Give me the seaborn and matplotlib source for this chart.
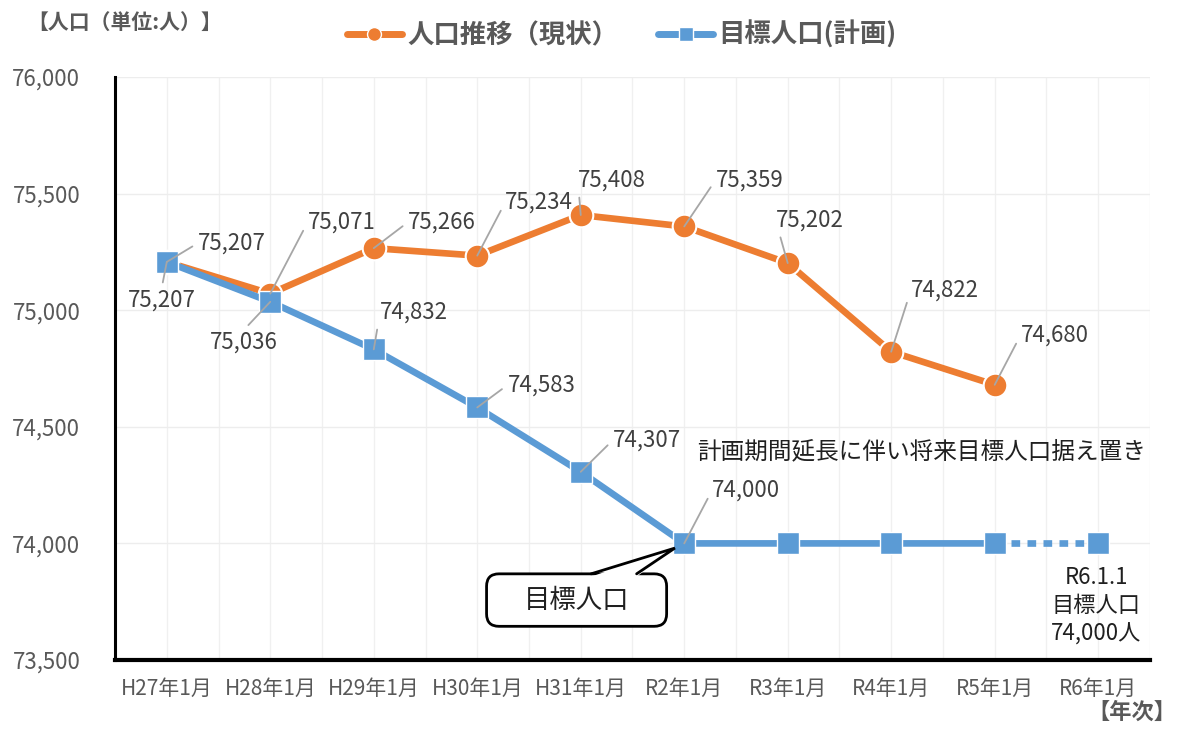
import numpy as np
import pandas as pd
import matplotlib.pyplot as plt
import seaborn as sns
from matplotlib.lines import Line2D
from matplotlib.patches import FancyBboxPatch, Polygon

# データ
years = ['H27年1月', 'H28年1月', 'H29年1月', 'H30年1月', 'H31年1月',
         'R2年1月', 'R3年1月', 'R4年1月', 'R5年1月', 'R6年1月']
actual = [75207, 75071, 75266, 75234, 75408, 75359, 75202, 74822, 74680]
target = [75207, 75036, 74832, 74583, 74307, 74000, 74000, 74000, 74000, 74000]

# ラベル位置 (x: カテゴリ単位, y: 人口)
actual_lbl_x = [0.63, 1.69, 2.66, 3.60, 4.30, 5.63, 6.21, 7.52, 8.58]
actual_lbl_y = [75288, 75378, 75378, 75464, 75558, 75558, 75387, 75087, 74894]
target_lbl_x = [-0.05, 0.74, 2.39, 3.62, 4.64, 5.60]
target_lbl_y = [75044, 74864, 74992, 74679, 74443, 74229]

ORANGE = '#ED7D31'
BLUE = '#5B9BD5'

sns.set_theme(style='white')
plt.rcParams['font.family'] = ['Noto Sans CJK JP', 'DejaVu Sans']

df_a = pd.DataFrame({'x': np.arange(len(actual)), 'pop': actual})
df_t = pd.DataFrame({'x': np.arange(len(target)), 'pop': target})

fig = plt.figure(figsize=(11.8, 7.31), dpi=100)
ax = fig.add_axes([0.0975, 0.0971, 0.877, 0.7976])

# 人口推移（現状）
sns.lineplot(data=df_a, x='x', y='pop', ax=ax, color=ORANGE, lw=4.8,
             marker='o', markersize=17, markeredgecolor='white',
             markeredgewidth=1.5, zorder=3)

# 目標人口（計画）: R5→R6 は点線
sns.lineplot(data=df_t.iloc[8:], x='x', y='pop', ax=ax, color=BLUE, lw=4.8,
             linestyle=(0, (1.3, 1.1)), dash_capstyle='butt',
             marker='s', markersize=16, markeredgecolor='white',
             markeredgewidth=1.0, zorder=3.5)
sns.lineplot(data=df_t.iloc[:9], x='x', y='pop', ax=ax, color=BLUE, lw=4.8,
             marker='s', markersize=16, markeredgecolor='white',
             markeredgewidth=1.0, zorder=4)

# 軸
ax.set_xlim(-0.5, len(years) - 0.5)
ax.set_ylim(73500, 76000)
ax.set_xticks(np.arange(len(years)))
ax.set_xticklabels(years)
ax.set_xticks(np.arange(-0.5, len(years), 1.0), minor=True)
ax.set_yticks(np.arange(73500, 76001, 500))
ax.set_yticklabels([f'{v:,}' for v in np.arange(73500, 76001, 500)])
ax.set_xlabel('')
ax.set_ylabel('')
ax.tick_params(axis='both', which='both', length=0)
ax.tick_params(axis='y', labelsize=16, labelcolor='#595959', pad=25)
ax.tick_params(axis='x', labelsize=15, labelcolor='#595959', pad=13)
ax.grid(axis='x', which='both', color='#F0F0F0', lw=1)
ax.grid(axis='y', which='major', color='#EDEDED', lw=1)
for s in ['top', 'right']:
    ax.spines[s].set_visible(False)
ax.spines['left'].set_color('black')
ax.spines['left'].set_linewidth(2.2)
ax.spines['bottom'].set_color('black')
ax.spines['bottom'].set_linewidth(3)

# データラベル
def add_labels(values, lx, ly):
    for i, (tx, ty) in enumerate(zip(lx, ly)):
        v = values[i]
        rel = (0.5, 1) if ty < v else (0, 0.5)
        ax.annotate(f'{v:,}', xy=(i, v), xytext=(tx, ty), ha='center', va='center',
                    fontsize=16, color='#404040', zorder=6,
                    arrowprops=dict(arrowstyle='-', color='#A6A6A6', lw=1.3,
                                    shrinkA=2, shrinkB=0, relpos=rel))

add_labels(actual, actual_lbl_x, actual_lbl_y)
add_labels(target, target_lbl_x, target_lbl_y)

# 注記
ax.text(7.29, 74392, '計画期間延長に伴い将来目標人口据え置き', ha='center', va='center',
        fontsize=17, color='#202020')
ax.text(8.98, 73732, 'R6.1.1\n目標人口\n74,000人', ha='center', va='center',
        fontsize=16, color='#202020', linespacing=1.3)

# 吹き出し「目標人口」 (R2 の目標人口を指す)
cx, cy = 3.96, 73757          # 吹き出し中心
bw, bh = 1.74, 225            # 幅 (カテゴリ単位), 高さ (人)
tip_x, tip_y = 5 - 0.09, target[5] - 20
aspect = 4.288 * 103.56
box = FancyBboxPatch((cx - bw / 2, cy - bh / 2), bw, bh,
                     boxstyle='round,pad=0,rounding_size=0.12', mutation_aspect=aspect,
                     fc='white', ec='black', lw=2, zorder=6)
ax.add_patch(box)
top = cy + bh / 2
wedge = Polygon([(4.10, top - 12), (tip_x, tip_y), (4.54, top - 12)],
                closed=True, fc='white', ec='none', zorder=6.5)
ax.add_patch(wedge)
ax.plot([4.10, tip_x, 4.54], [top, tip_y, top], color='black', lw=2, zorder=6.6,
        solid_joinstyle='miter')
ax.text(cx, cy, '目標人口', ha='center', va='center', fontsize=19,
        color='#202020', zorder=7)

# 凡例
handles = [
    Line2D([], [], color=ORANGE, lw=5, marker='o', markersize=10,
           markeredgecolor='white', markeredgewidth=1),
    Line2D([], [], color=BLUE, lw=5, marker='s', markersize=10,
           markeredgecolor='white', markeredgewidth=1),
]
leg = fig.legend(handles, ['人口推移（現状）', '目標人口(計画)'], loc='center',
                 bbox_to_anchor=(0.527, 0.952), ncol=2, frameon=False,
                 handlelength=2.1, handletextpad=0.2, columnspacing=1.5,
                 prop={'size': 19, 'weight': 'bold'})
for t in leg.get_texts():
    t.set_color('#595959')

fig.text(0.106, 0.970, '【人口（単位:人）】', ha='center', va='center',
         fontsize=15, color='#595959', fontweight='bold')
fig.text(0.997, 0.026, '【年次】', ha='right', va='center',
         fontsize=16, color='#595959', fontweight='bold')

fig.savefig('out.png', dpi=100)
